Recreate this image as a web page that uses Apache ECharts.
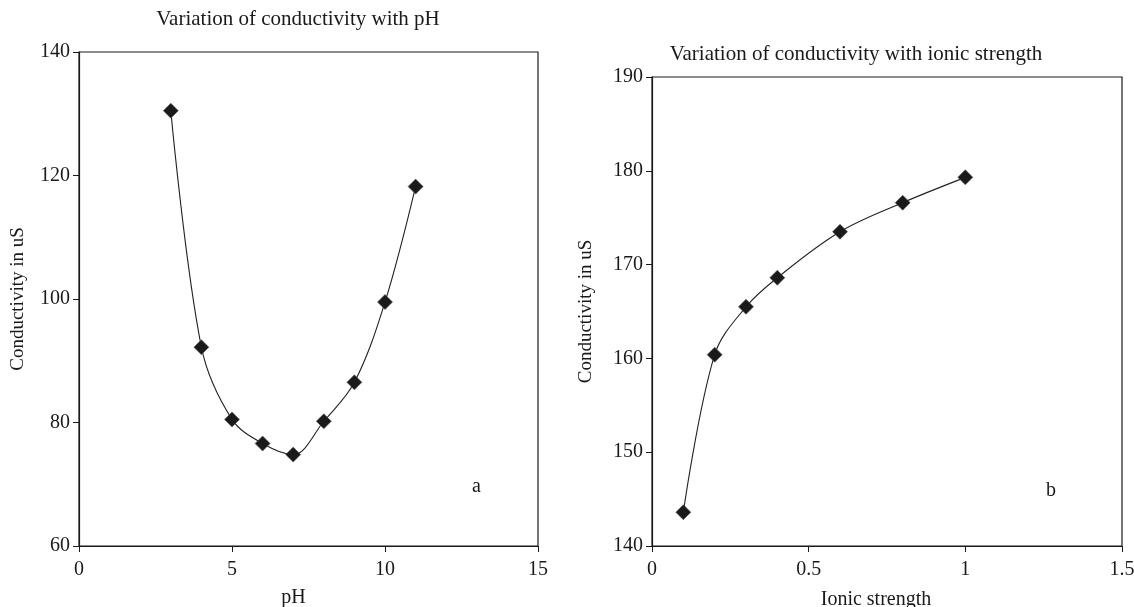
<!DOCTYPE html>
<html><head><meta charset="utf-8">
<script src="https://cdn.jsdelivr.net/npm/echarts@6/dist/echarts.min.js"></script>
<style>html,body{margin:0;padding:0;background:#fff}#c{width:1134px;height:607px}</style>
</head><body><div id="c"></div>
<script>
// Chart a: conductivity vs pH
const phValues = [3, 4, 5, 6, 7, 8, 9, 10, 11];
const condPH = [130.5, 92.2, 80.5, 76.6, 74.8, 80.2, 86.5, 99.5, 118.2];
// Chart b: conductivity vs ionic strength
const ionicValues = [0.1, 0.2, 0.3, 0.4, 0.6, 0.8, 1.0];
const condIonic = [143.6, 160.4, 165.5, 168.6, 173.5, 176.6, 179.3];

const titles = ['Variation of conductivity with pH', 'Variation of conductivity with ionic strength'];
const xNames = ['pH', 'Ionic strength'];
const yName = 'Conductivity in uS';
const panelLabels = ['a', 'b'];

const font = 'Liberation Serif';
const ink = '#1a1a1a';

function xAxis(gi, min, max, interval, name, shift, gap) {
  return {
    type: 'value', gridIndex: gi, min, max, interval,
    name, nameLocation: 'middle', nameGap: gap,
    nameTextStyle: {fontFamily: font, fontSize: 20, color: ink, padding: [0, shift, 0, 0]},
    axisLine: {show: true, lineStyle: {color: ink, width: 1.2}},
    axisTick: {show: true, length: 6, lineStyle: {color: ink}},
    axisLabel: {fontFamily: font, fontSize: 20, color: ink, margin: 14},
    splitLine: {show: false}
  };
}
function yAxis(gi, min, max, interval, gap) {
  return {
    type: 'value', gridIndex: gi, min, max, interval,
    name: yName, nameLocation: 'middle', nameGap: gap, nameRotate: 90,
    nameTextStyle: {fontFamily: font, fontSize: 19, color: ink},
    axisLine: {show: true, lineStyle: {color: ink, width: 1.2}},
    axisTick: {show: true, length: 6, lineStyle: {color: ink}},
    axisLabel: {fontFamily: font, fontSize: 20, color: ink, margin: 9},
    splitLine: {show: false}
  };
}
function series(xi, xs, ys) {
  return {
    type: 'line', xAxisIndex: xi, yAxisIndex: xi,
    data: xs.map((x, i) => [x, ys[i]]),
    smooth: 0.35, symbol: 'diamond', symbolSize: 15,
    lineStyle: {color: '#222', width: 1.1},
    itemStyle: {color: ink, borderColor: '#555', borderWidth: 0.6},
    animation: false
  };
}

const chart = echarts.init(document.getElementById('c'));
chart.setOption({
  backgroundColor: '#fff',
  animation: false,
  title: [
    {text: titles[0], left: 293, top: 4, textAlign: 'center',
     textStyle: {fontFamily: font, fontSize: 21, fontWeight: 'normal', color: ink}},
    {text: titles[1], left: 851, top: 39, textAlign: 'center',
     textStyle: {fontFamily: font, fontSize: 21, fontWeight: 'normal', color: ink}}
  ],
  grid: [
    {left: 79, top: 52, width: 459, height: 494, show: true, borderColor: ink, borderWidth: 1.2,
     backgroundColor: 'transparent', containLabel: false, outerBoundsMode: 'none'},
    {left: 652, top: 77, width: 470, height: 469, show: true, borderColor: ink, borderWidth: 1.2,
     backgroundColor: 'transparent', containLabel: false, outerBoundsMode: 'none'}
  ],
  xAxis: [xAxis(0, 0, 15, 5, xNames[0], 30, 42), xAxis(1, 0, 1.5, 0.5, xNames[1], 22, 44)],
  yAxis: [yAxis(0, 60, 140, 20, 51), yAxis(1, 140, 190, 10, 56)],
  series: [series(0, phValues, condPH), series(1, ionicValues, condIonic)],
  graphic: [
    {type: 'text', left: 472, top: 477, style: {text: panelLabels[0], font: '20px ' + font, fill: ink}},
    {type: 'text', left: 1046, top: 481, style: {text: panelLabels[1], font: '20px ' + font, fill: ink}}
  ]
});
</script></body></html>
